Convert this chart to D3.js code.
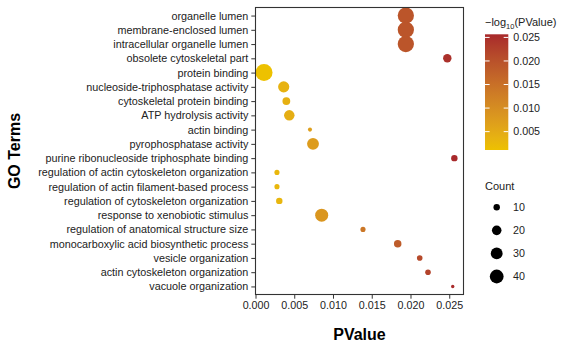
<!DOCTYPE html>
<html>
<head>
<meta charset="utf-8">
<script src="https://cdn.jsdelivr.net/npm/d3@7"></script>
<style>
  html, body { margin: 0; padding: 0; background: #fff; }
  svg { display: block; font-family: 'Liberation Sans', Arial, sans-serif; }
</style>
</head>
<body>
<div id="chart"></div>
<script>
// GO terms, top to bottom
const terms = [
  'organelle lumen',
  'membrane-enclosed lumen',
  'intracellular organelle lumen',
  'obsolete cytoskeletal part',
  'protein binding',
  'nucleoside-triphosphatase activity',
  'cytoskeletal protein binding',
  'ATP hydrolysis activity',
  'actin binding',
  'pyrophosphatase activity',
  'purine ribonucleoside triphosphate binding',
  'regulation of actin cytoskeleton organization',
  'regulation of actin filament-based process',
  'regulation of cytoskeleton organization',
  'response to xenobiotic stimulus',
  'regulation of anatomical structure size',
  'monocarboxylic acid biosynthetic process',
  'vesicle organization',
  'actin cytoskeleton organization',
  'vacuole organization',
]
const pValues = [
  0.0194, 0.0194, 0.0194, 0.02475, 0.0011, 0.00364, 0.00398, 0.00436, 0.00703,
  0.00742, 0.02566, 0.00277, 0.00277, 0.00307, 0.00854, 0.01387, 0.01835,
  0.02119, 0.02226, 0.02545,
]
const counts = [
  55, 55, 55, 16, 60, 27, 14, 24, 5, 30, 10, 7, 7, 10, 36, 7, 13, 8, 8, 4,
]
const xTicks = [0, 0.005, 0.01, 0.015, 0.02, 0.025]
const colorTicks = [0.005, 0.01, 0.015, 0.02, 0.025]
const sizeLegendCounts = [10, 20, 30, 40]

const width = 565
const height = 350
const panel = { left: 255, top: 7, right: 464, bottom: 295 }
const textColor = '#222'

const svg = d3
  .select('#chart')
  .append('svg')
  .attr('width', width)
  .attr('height', height)

svg.append('rect').attr('width', width).attr('height', height).attr('fill', '#fff')

const data = terms.map((t, i) => ({ term: t, p: pValues[i], count: counts[i] }))

const xScale = d3
  .scaleLinear()
  .domain([0, 0.02684])
  .range([panel.left + 0.5, panel.right - 0.5])

const yScale = d3
  .scalePoint()
  .domain(terms)
  .range([panel.top, panel.bottom])
  .padding(0.6)

const colorScale = d3
  .scaleLinear()
  .domain(d3.extent(pValues))
  .range(['#EDC100', '#A8292B'])
  .interpolate(d3.interpolateLab)

const sizeScale = d3.scaleRadial().domain([4, 60]).range([1.7, 8.5])

// points
svg
  .append('g')
  .selectAll('circle')
  .data(data)
  .join('circle')
  .attr('cx', d => xScale(d.p))
  .attr('cy', d => yScale(d.term))
  .attr('r', d => sizeScale(d.count))
  .attr('fill', d => colorScale(d.p))

// panel border
svg
  .append('rect')
  .attr('x', panel.left + 0.5)
  .attr('y', panel.top + 0.5)
  .attr('width', panel.right - panel.left - 1)
  .attr('height', panel.bottom - panel.top - 1)
  .attr('fill', 'none')
  .attr('stroke', '#333')
  .attr('stroke-width', 1.1)

// y axis
svg
  .append('g')
  .attr('transform', `translate(${panel.left}, 0)`)
  .call(d3.axisLeft(yScale).tickSize(3.7).tickPadding(3))
  .call(g => {
    g.select('.domain').remove()
    g.selectAll('.tick line').attr('stroke', '#333')
    g.selectAll('.tick text')
      .attr('fill', textColor)
      .style('font-size', '10.8px')
      .style('font-family', "'Liberation Sans', Arial, sans-serif")
  })

// x axis
svg
  .append('g')
  .attr('transform', `translate(0, ${panel.bottom})`)
  .call(d3.axisBottom(xScale).tickValues(xTicks).tickFormat(d3.format('.3f')).tickSize(3.7).tickPadding(3))
  .call(g => {
    g.select('.domain').remove()
    g.selectAll('.tick line').attr('stroke', '#333')
    g.selectAll('.tick text')
      .attr('fill', textColor)
      .style('font-size', '10.7px')
      .style('font-family', "'Liberation Sans', Arial, sans-serif")
  })

// axis titles
svg
  .append('text')
  .attr('x', (panel.left + panel.right) / 2)
  .attr('y', 340)
  .attr('text-anchor', 'middle')
  .style('font-size', '16px')
  .style('font-weight', 'bold')
  .attr('fill', '#000')
  .text('PValue')

svg
  .append('text')
  .attr('transform', `translate(20, ${(panel.top + panel.bottom) / 2}) rotate(-90)`)
  .attr('text-anchor', 'middle')
  .style('font-size', '16px')
  .style('font-weight', 'bold')
  .attr('fill', '#000')
  .text('GO Terms')

// colour legend
const legendX = 485
const barTop = 34.3
const barBottom = 150
const barWidth = 23.3

const legendTitle = svg
  .append('text')
  .attr('x', legendX)
  .attr('y', 26)
  .style('font-size', '11px')
  .attr('fill', textColor)
legendTitle.append('tspan').text('\u2212log')
legendTitle.append('tspan').attr('dy', 2.5).style('font-size', '7.5px').text('10')
legendTitle.append('tspan').attr('dy', -2.5).text('(PValue)')

const defs = svg.append('defs')
const grad = defs
  .append('linearGradient')
  .attr('id', 'pgrad')
  .attr('x1', 0)
  .attr('y1', 1)
  .attr('x2', 0)
  .attr('y2', 0)
d3.range(0, 1.0001, 0.1).forEach(t => {
  const v = colorScale.domain()[0] + t * (colorScale.domain()[1] - colorScale.domain()[0])
  grad.append('stop').attr('offset', t).attr('stop-color', colorScale(v))
})

const barScale = d3.scaleLinear().domain(colorScale.domain()).range([barBottom, barTop])

svg
  .append('rect')
  .attr('x', legendX)
  .attr('y', barTop)
  .attr('width', barWidth)
  .attr('height', barBottom - barTop)
  .attr('fill', 'url(#pgrad)')

const tickG = svg.append('g').selectAll('g').data(colorTicks).join('g')
tickG
  .append('line')
  .attr('x1', legendX)
  .attr('x2', legendX + 4.6)
  .attr('y1', d => barScale(d))
  .attr('y2', d => barScale(d))
  .attr('stroke', '#fff')
tickG
  .append('line')
  .attr('x1', legendX + barWidth - 4.6)
  .attr('x2', legendX + barWidth)
  .attr('y1', d => barScale(d))
  .attr('y2', d => barScale(d))
  .attr('stroke', '#fff')
tickG
  .append('text')
  .attr('x', legendX + barWidth + 5)
  .attr('y', d => barScale(d))
  .attr('dy', '0.35em')
  .style('font-size', '10.7px')
  .attr('fill', textColor)
  .text(d => d3.format('.3f')(d))

// size legend
svg
  .append('text')
  .attr('x', legendX)
  .attr('y', 190)
  .style('font-size', '11px')
  .attr('fill', textColor)
  .text('Count')

const sizeY = d3.scalePoint().domain(sizeLegendCounts).range([207.3, 276.5])

const sizeG = svg.append('g').selectAll('g').data(sizeLegendCounts).join('g')
sizeG
  .append('circle')
  .attr('cx', 496.7)
  .attr('cy', d => sizeY(d))
  .attr('r', d => sizeScale(d))
  .attr('fill', '#000')
sizeG
  .append('text')
  .attr('x', 513)
  .attr('y', d => sizeY(d))
  .attr('dy', '0.35em')
  .style('font-size', '10.7px')
  .attr('fill', textColor)
  .text(d => d)
</script>
</body>
</html>
